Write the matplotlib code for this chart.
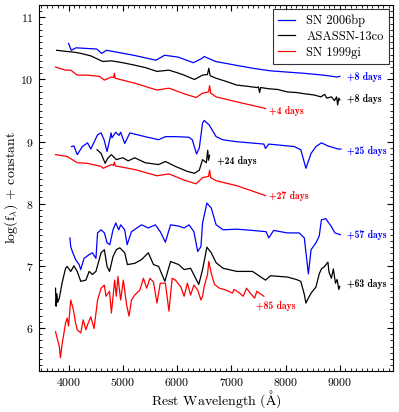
import numpy as np
import matplotlib
matplotlib.use("Agg")
import matplotlib.pyplot as plt
from matplotlib.ticker import MultipleLocator

plt.rcParams['font.family'] = 'serif'
plt.rcParams['font.serif'] = ['cmr10']
plt.rcParams['mathtext.fontset'] = 'cm'
plt.rcParams['axes.formatter.use_mathtext'] = True

# --- SN 2006bp (blue) ---
b08_w = [4000, 4050, 4140, 4330, 4520, 4610, 4700, 5200, 5610, 5770, 6020, 6300, 6460, 6500,
         6710, 7080, 7400, 7710, 8330, 8700, 8950, 9000]
b08_f = [10.58, 10.47, 10.51, 10.50, 10.49, 10.42, 10.47, 10.39, 10.31, 10.39, 10.36, 10.27, 10.34, 10.37,
         10.29, 10.23, 10.18, 10.14, 10.10, 10.07, 10.04, 10.05]

b25_w = [4055, 4100, 4160, 4255, 4350, 4410, 4535, 4600, 4655, 4710, 4785, 4800, 4870, 4930, 4960,
         5035, 5130, 5220, 5410, 5660, 5785, 5970, 6220, 6280, 6360, 6410, 6470, 6500, 6590, 6720,
         6840, 7080, 7600, 7630, 7690, 8160, 8280, 8375, 8470, 8560, 8660, 8780, 8970, 9020]
b25_f = [8.92, 8.93, 8.79, 8.92, 8.98, 8.88, 9.11, 9.14, 9.03, 8.84, 9.14, 9.06, 9.15, 9.10, 9.15,
         8.97, 9.14, 9.12, 9.08, 9.03, 9.08, 9.08, 9.07, 9.03, 8.80, 8.90, 9.30, 9.34, 9.27, 9.08,
         9.03, 9.00, 8.96, 8.89, 8.96, 8.92, 8.87, 8.57, 8.81, 8.92, 8.98, 8.93, 8.88, 8.88]

b57_w = [4025, 4040, 4070, 4130, 4195, 4225, 4285, 4380, 4440, 4505, 4535, 4600, 4660, 4710, 4760,
         4820, 4870, 4925, 4960, 5035, 5080, 5160, 5345, 5470, 5600, 5690, 5785, 5880, 6030, 6130,
         6220, 6310, 6380, 6440, 6470, 6550, 6630, 6720, 6850, 7100, 7390, 7640, 7690, 7780, 8030,
         8250, 8345, 8420, 8470, 8560, 8620, 8660, 8740, 8845, 8910, 9010]
b57_f = [7.45, 7.31, 7.23, 7.10, 7.02, 6.94, 7.12, 7.18, 7.21, 7.12, 7.53, 7.58, 7.53, 7.37, 7.34,
         7.58, 7.69, 7.58, 7.66, 7.58, 7.34, 7.55, 7.66, 7.61, 7.66, 7.55, 7.38, 7.66, 7.64, 7.61,
         7.66, 7.55, 7.23, 7.31, 7.69, 8.01, 7.93, 7.66, 7.58, 7.59, 7.57, 7.55, 7.45, 7.57, 7.53,
         7.53, 7.45, 6.87, 7.26, 7.37, 7.48, 7.74, 7.76, 7.63, 7.53, 7.50]

# --- ASASSN-13co (black) ---
k08_w = [3780, 3880, 3975, 4100, 4225, 4410, 4630, 4790, 5000, 5220, 5420, 5630, 5850, 6000, 6130,
         6320, 6470, 6560, 6585, 6610, 6720, 6900, 7100, 7300, 7470, 7500, 7520, 7540, 7700, 7850,
         8030, 8200, 8350, 8530, 8650, 8720, 8760, 8845, 8900, 8940, 8960, 8980, 9000]
k08_f = [10.47, 10.46, 10.45, 10.44, 10.42, 10.38, 10.29, 10.30, 10.27, 10.23, 10.19, 10.13, 10.15, 10.11, 10.07,
         10.00, 10.07, 10.08, 10.18, 10.06, 10.02, 9.97, 9.91, 9.89, 9.87, 9.88, 9.79, 9.87, 9.85, 9.84,
         9.80, 9.79, 9.77, 9.75, 9.72, 9.76, 9.70, 9.72, 9.66, 9.72, 9.59, 9.70, 9.67]

k24_w = [4525, 4600, 4675, 4720, 4790, 4880, 5000, 5100, 5220, 5410, 5660, 5785, 5970, 6190, 6320,
         6410, 6470, 6540, 6565, 6580, 6600]
k24_f = [8.87, 8.81, 8.65, 8.73, 8.79, 8.71, 8.74, 8.69, 8.74, 8.66, 8.63, 8.68, 8.60, 8.52, 8.49,
         8.54, 8.71, 8.66, 8.86, 8.70, 8.78]

k63_w = [3760, 3770, 3785, 3800, 3830, 3880, 3945, 3975, 4040, 4100, 4160, 4225, 4320, 4380, 4440,
         4505, 4600, 4660, 4710, 4755, 4820, 4880, 4945, 5035, 5085, 5220, 5345, 5470, 5565, 5660,
         5775, 5880, 6030, 6130, 6250, 6400, 6470, 6550, 6630, 6720, 6850, 7100, 7390, 7630, 7720,
         8030, 8200, 8280, 8345, 8375, 8420, 8470, 8560, 8620, 8660, 8720, 8780, 8800, 8845, 8880,
         8920, 8950, 8980, 9000]
k63_f = [6.64, 6.35, 6.55, 6.41, 6.48, 6.72, 6.96, 6.99, 6.91, 7.00, 6.91, 6.75, 6.77, 6.91, 6.86,
         6.91, 7.21, 7.26, 6.99, 6.91, 7.15, 7.26, 7.29, 7.21, 7.02, 7.04, 7.10, 7.21, 7.02, 6.99,
         6.75, 7.07, 7.02, 6.94, 6.96, 6.70, 6.94, 7.30, 7.21, 7.05, 6.96, 6.91, 6.91, 6.77, 6.84,
         6.82, 6.78, 6.75, 6.54, 6.40, 6.48, 6.56, 6.66, 6.87, 6.95, 6.99, 7.06, 6.90, 6.80, 6.95,
         6.72, 6.78, 6.62, 6.67]

# --- SN 1999gi (red) ---
r04_w = [3760, 3945, 4040, 4160, 4350, 4570, 4660, 4790, 4830, 4845, 4860, 5220, 5630, 5850, 6130,
         6350, 6470, 6580, 6600, 6620, 6720, 7100, 7600, 7630]
r04_f = [10.20, 10.15, 10.15, 10.07, 10.07, 10.05, 9.99, 10.04, 10.03, 10.10, 10.02, 9.94, 9.83, 9.86, 9.77,
         9.71, 9.78, 9.80, 9.90, 9.78, 9.72, 9.64, 9.54, 9.53]

r27_w = [3760, 3975, 4160, 4350, 4600, 4640, 4790, 4830, 4845, 4860, 5220, 5630, 5850, 6130, 6350,
         6470, 6580, 6600, 6620, 6720, 7100, 7600, 7630]
r27_f = [8.79, 8.76, 8.66, 8.65, 8.60, 8.57, 8.63, 8.62, 8.67, 8.61, 8.55, 8.45, 8.48, 8.38, 8.32,
         8.42, 8.44, 8.54, 8.42, 8.37, 8.29, 8.14, 8.13]

r85_w = [3760, 3800, 3830, 3850, 3880, 3945, 3975, 4000, 4040, 4090, 4130, 4160, 4225, 4270, 4320,
         4350, 4410, 4470, 4535, 4600, 4660, 4690, 4755, 4790, 4850, 4880, 4910, 4960, 5010, 5070,
         5115, 5160, 5220, 5315, 5380, 5440, 5500, 5565, 5630, 5690, 5785, 5850, 5910, 5970, 6070,
         6130, 6190, 6250, 6310, 6380, 6440, 6470, 6500, 6560, 6585, 6630, 6690, 6780, 6900, 7020,
         7050, 7140, 7220, 7280, 7340, 7430, 7470, 7600]
r85_f = [5.94, 5.80, 5.70, 5.52, 5.73, 6.08, 6.16, 6.03, 6.45, 6.29, 6.08, 5.97, 5.92, 6.13, 5.97,
         6.05, 6.18, 5.99, 6.45, 6.64, 6.69, 6.51, 6.59, 6.24, 6.77, 6.51, 6.83, 6.45, 6.77, 6.37,
         6.19, 6.45, 6.53, 6.61, 6.80, 6.64, 6.80, 6.74, 6.40, 6.72, 6.72, 6.27, 6.80, 6.77, 6.66,
         6.51, 6.72, 6.53, 6.69, 6.61, 6.45, 6.51, 6.67, 6.85, 7.07, 6.88, 6.70, 6.64, 6.61, 6.56,
         6.62, 6.57, 6.51, 6.64, 6.57, 6.48, 6.59, 6.51]

# epoch labels: text, x, y, colour
labels = ["+8 days", "+8 days", "+4 days", "+25 days", "+24 days", "+27 days",
          "+57 days", "+63 days", "+85 days"]
label_x = [9130, 9130, 7700, 9130, 6730, 7700, 9130, 9130, 7460]
label_y = [10.04, 9.69, 9.49, 8.85, 8.69, 8.13, 7.50, 6.70, 6.35]
label_c = ['b', 'k', 'r', 'b', 'k', 'r', 'b', 'k', 'r']

fig = plt.figure(figsize=(3.99, 4.12), dpi=100)
ax = fig.add_axes([0.097, 0.1, 0.888, 0.888])

lw = 0.9
ax.plot(b08_w, b08_f, color='b', lw=lw, label='SN 2006bp')
ax.plot(k08_w, k08_f, color='k', lw=lw, label='ASASSN-13co')
ax.plot(r04_w, r04_f, color='r', lw=lw, label='SN 1999gi')
ax.plot(b25_w, b25_f, color='b', lw=lw)
ax.plot(k24_w, k24_f, color='k', lw=lw)
ax.plot(r27_w, r27_f, color='r', lw=lw)
ax.plot(b57_w, b57_f, color='b', lw=lw)
ax.plot(k63_w, k63_f, color='k', lw=lw)
ax.plot(r85_w, r85_f, color='r', lw=lw)

for t, x, y, c in zip(labels, label_x, label_y, label_c):
    ax.text(x, y, t, color=c, fontsize=7, family='cmb10', va='center', ha='left')

ax.set_xlim(3450, 9980)
ax.set_ylim(5.31, 11.2)
ax.xaxis.set_major_locator(MultipleLocator(1000))
ax.xaxis.set_minor_locator(MultipleLocator(100))
ax.yaxis.set_major_locator(MultipleLocator(1))
ax.yaxis.set_minor_locator(MultipleLocator(0.1))
ax.tick_params(which='both', direction='in', top=True, right=True, labelsize=8.5)
ax.tick_params(which='major', length=4)
ax.tick_params(axis='x', which='major', pad=4)
ax.tick_params(which='minor', length=2)

ax.set_xlabel(r'Rest Wavelength ($\mathrm{\AA}$)', fontsize=10, labelpad=0)
ax.set_ylabel(r'log(f$_\lambda$) + constant', fontsize=10, labelpad=0)

leg = ax.legend(loc='upper right', fontsize=9, handlelength=1.4, fancybox=False,
                edgecolor='k', borderaxespad=0.35, labelspacing=0.3, handletextpad=0.9)
leg.get_frame().set_linewidth(0.8)

fig.savefig('out.png', dpi=100)
